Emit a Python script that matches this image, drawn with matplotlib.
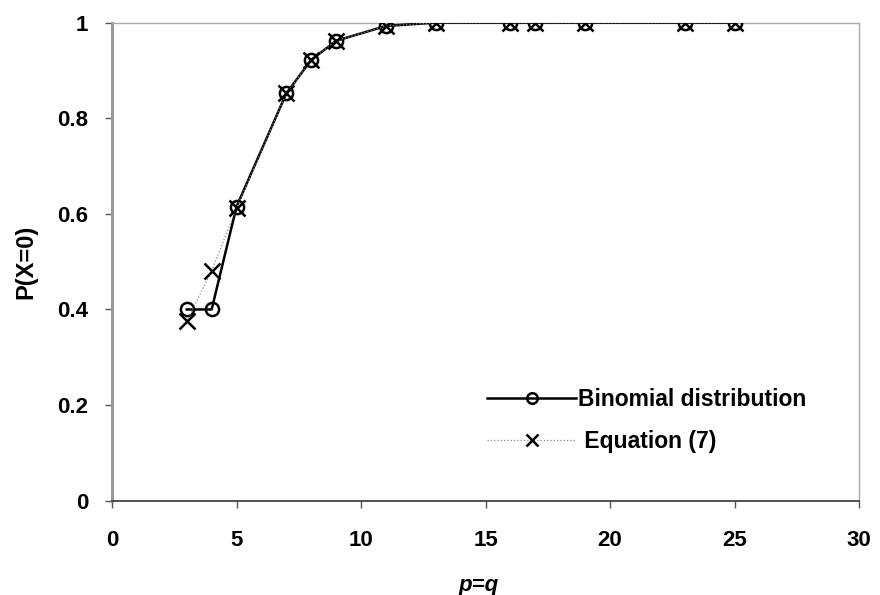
import matplotlib
matplotlib.use("Agg")
from matplotlib import pyplot as plt

plt.rcParams['font.family'] = ['Liberation Sans', 'DejaVu Sans']

# data
pq = [3, 4, 5, 7, 8, 9, 11, 13, 16, 17, 19, 23, 25]
p_binomial = [0.40, 0.40, 0.615, 0.852, 0.922, 0.962, 0.993, 1.0, 1.0, 1.0, 1.0, 1.0, 1.0]
p_equation = [0.375, 0.481, 0.612, 0.852, 0.922, 0.962, 0.993, 1.0, 1.0, 1.0, 1.0, 1.0, 1.0]

x_ticks = [0, 5, 10, 15, 20, 25, 30]
y_ticks = [0, 0.2, 0.4, 0.6, 0.8, 1]
y_ticklabels = ['0', '0.2', '0.4', '0.6', '0.8', '1']

fig = plt.figure(figsize=(8.8, 5.95), dpi=100)
ax = fig.add_axes([0.1273, 0.1585, 0.849, 0.8035])

ax.plot(pq, p_binomial, color='black', lw=1.8, marker='o', ms=9.5,
        mfc='none', mec='black', mew=1.8, label='Binomial distribution', zorder=3)
ax.plot(pq, p_equation, color='#888888', lw=0.9, ls=':', marker='x', ms=11,
        mec='black', mew=1.8, label=' Equation (7)', zorder=4)

ax.set_xlim(0, 30)
ax.set_ylim(0, 1)
ax.set_xticks(x_ticks)
ax.set_xticklabels([str(t) for t in x_ticks])
ax.set_yticks(y_ticks)
ax.set_yticklabels(y_ticklabels)
ax.tick_params(direction='out', length=5, width=1, color='#555555',
               labelsize=16)
ax.tick_params(axis='x', pad=16)
ax.tick_params(axis='y', pad=12)
for lab in ax.get_xticklabels() + ax.get_yticklabels():
    lab.set_fontweight('bold')

for side in ['top', 'right']:
    ax.spines[side].set_color('#aaaaaa')
    ax.spines[side].set_linewidth(1.0)
ax.spines['left'].set_color('#999999')
ax.spines['left'].set_linewidth(2.2)
ax.spines['bottom'].set_color('#333333')
ax.spines['bottom'].set_linewidth(1.2)

ax.set_xlabel('p=q', fontsize=16, fontweight='bold', style='italic')
ax.xaxis.set_label_coords(0.49, -0.155)
ax.set_ylabel('P(X=0)', fontsize=17, fontweight='bold')
ax.yaxis.set_label_coords(-0.1, 0.5)

leg = ax.legend(loc='upper left', bbox_to_anchor=(0.502, 0.236), frameon=False,
                handlelength=3.9, handletextpad=0.05, borderpad=0,
                borderaxespad=0, labelspacing=0.85, markerscale=0.8,
                prop={'weight': 'bold', 'size': 16.5})

fig.savefig('out.png', dpi=100)
